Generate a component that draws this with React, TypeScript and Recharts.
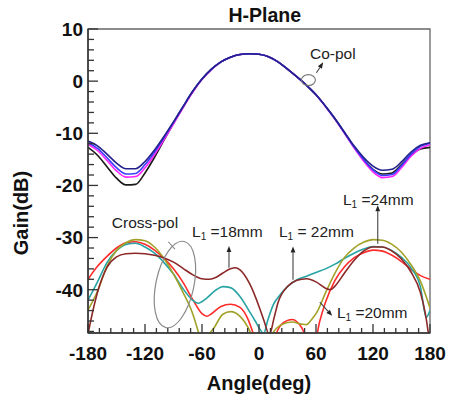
import React from 'react'
import { LineChart, Line, XAxis, YAxis, ReferenceLine, ReferenceDot, ReferenceArea } from 'recharts'

// co-pol, sampled every 10 deg
const copolAngles = [-180, -170, -160, -150, -140, -130, -120, -110, -100, -90, -80, -70, -60, -50, -40, -30, -20, -10, 0, 10, 20, 30, 40, 50, 60, 70, 80, 90, 100, 110, 120, 130, 140, 150, 160, 170, 180]
const copolNavy = [-11.5, -12.4, -14.0, -15.7, -16.8, -16.8, -15.4, -13.2, -10.6, -7.8, -4.9, -2.0, 0.4, 2.3, 3.7, 4.6, 5.1, 5.25, 5.15, 4.7, 3.7, 2.3, 0.8, -0.8, -2.6, -4.8, -7.2, -9.8, -12.4, -14.6, -16.3, -17.1, -16.9, -15.5, -13.6, -12.3, -11.8]
const copolBlue = [-11.8, -12.9, -14.7, -16.6, -17.8, -17.7, -16.0, -13.6, -10.8, -7.9, -4.9, -2.0, 0.4, 2.3, 3.7, 4.6, 5.1, 5.25, 5.15, 4.7, 3.7, 2.3, 0.8, -0.8, -2.6, -4.8, -7.2, -9.9, -12.6, -15.0, -17.0, -18.1, -17.9, -16.2, -14.0, -12.5, -11.9]
const copolMagenta = [-12.1, -13.3, -15.2, -17.2, -18.4, -18.3, -16.6, -14.1, -11.2, -8.2, -5.1, -2.2, 0.3, 2.2, 3.7, 4.6, 5.1, 5.25, 5.15, 4.7, 3.7, 2.3, 0.8, -0.8, -2.6, -4.9, -7.3, -10.0, -12.8, -15.3, -17.4, -18.5, -18.3, -16.6, -14.4, -12.9, -12.2]
const copolBlack = [-12.7, -14.2, -16.4, -18.6, -19.9, -19.8, -17.6, -14.6, -11.3, -8.1, -5.0, -2.1, 0.4, 2.3, 3.7, 4.6, 5.1, 5.25, 5.15, 4.7, 3.7, 2.3, 0.8, -0.8, -2.6, -4.8, -7.2, -9.9, -12.6, -15.0, -16.9, -17.8, -17.6, -16.0, -14.2, -13.0, -12.7]

// cross-pol
const redAngles = [-180, -170, -160, -150, -140, -130, -120, -110, -100, -90, -80, -70, -60, -55, -50, -40, -30, -20, -12, -5, 0, 10, 17, 25, 35, 45, 52, 58, 64, 70, 80, 90, 100, 110, 120, 130, 140, 150, 160, 170, 180]
const redGain = [-38, -35.5, -33.6, -32, -31, -30.8, -31.3, -32.4, -34, -36, -38.6, -41.8, -44.6, -45.1, -44.6, -43.2, -42.8, -43.4, -45.5, -49, -52, -54, -49, -46.4, -45.7, -47.3, -50, -50.5, -46, -42.4, -38.2, -35.6, -33.9, -32.9, -32.4, -32.6, -33.4, -34.6, -36.1, -37.3, -38]

const tealAngles = [-180, -170, -160, -150, -140, -130, -120, -110, -100, -90, -80, -70, -64, -55, -45, -38, -30, -20, -10, -4, 0, 5, 9, 15, 20, 30, 40, 50, 60, 70, 80, 90, 100, 110, 120, 130, 140, 150, 160, 170, 176, 180]
const tealGain = [-42, -38.5, -34.8, -32.5, -31.3, -31.1, -31.8, -33, -34.8, -37, -39.8, -42, -42.6, -41.6, -40, -39.4, -39.6, -41.3, -44.2, -46, -47.3, -48.4, -46, -42.9, -41.5, -39.4, -38.1, -37.4, -36.7, -36, -35.1, -34, -33, -32.2, -31.7, -31.8, -32.5, -33.8, -35.8, -39.5, -45.3, -44]

const oliveAngles = [-180, -170, -160, -150, -140, -130, -120, -110, -100, -90, -80, -70, -64, -60, -55, -48, -38, -30, -20, -10, -5, 0, 8, 15, 25, 35, 45, 50, 55, 61, 70, 80, 90, 100, 110, 120, 130, 140, 150, 160, 170, 180]
const oliveGain = [-43.9, -40.3, -35.5, -32.5, -31, -30.4, -30.6, -31.8, -34, -37, -40.5, -44.5, -48, -50.5, -49, -47.5, -44.7, -44.2, -45.1, -47.8, -50, -52, -51, -48.2, -46.6, -46.2, -46.6, -46.7, -45.8, -44.3, -40.6, -36.8, -33.8, -32, -30.9, -30.4, -30.5, -31.3, -32.8, -35.2, -38.4, -43.5]

const maroonAngles = [-180, -176, -170, -160, -150, -140, -130, -120, -110, -100, -90, -80, -70, -60, -52, -45, -38, -30, -25, -20, -10, 0, 5, 11, 16, 20, 30, 40, 50, 60, 70, 75, 80, 90, 100, 110, 120, 130, 140, 150, 160, 170, 175, 178, 180]
const maroonGain = [-48.5, -45, -40.5, -35.7, -33.7, -33.1, -33, -33.1, -33.4, -33.9, -34.7, -35.9, -37.1, -37.9, -38, -37.6, -36.8, -36, -35.8, -36.2, -38.8, -43.2, -45.8, -48.6, -45.3, -42.5, -39.4, -38.2, -37.9, -38.5, -39.7, -40, -39.3, -36.8, -34.4, -32.6, -31.8, -31.8, -32.6, -34.1, -36.6, -40.6, -44.5, -48, -51]

const xTicks = [-180, -168, -156, -144, -132, -120, -108, -96, -84, -72, -60, -48, -36, -24, -12, 0, 12, 24, 36, 48, 60, 72, 84, 96, 108, 120, 132, 144, 156, 168, 180]
const yTicks = [-48, -46, -44, -42, -40, -38, -36, -34, -32, -30, -28, -26, -24, -22, -20, -18, -16, -14, -12, -10, -8, -6, -4, -2, 0, 2, 4, 6, 8, 10]

const pts = (xs: number[], ys: number[]) => xs.map((a, i) => ({ angle: a, gain: ys[i] }))

const FONT = 'Arial, "Liberation Sans", sans-serif'

const XTick = (props: any) => {
  const { x, y, payload } = props
  const major = payload.value % 60 === 0
  return (
    <g>
      <line x1={x} y1={y} x2={x} y2={y - (major ? 9 : 5)} stroke="#333" strokeWidth={1.3} />
      {major && (
        <text x={x} y={y + 27} textAnchor="middle" fontFamily={FONT} fontWeight="bold" fontSize={19} fill="#111">
          {payload.value}
        </text>
      )}
    </g>
  )
}

const YTick = (props: any) => {
  const { x, y, payload } = props
  const major = payload.value % 10 === 0
  return (
    <g>
      <line x1={x} y1={y} x2={x + (major ? 10 : 6)} y2={y} stroke="#333" strokeWidth={1.3} />
      {major && (
        <text x={x - 5} y={y} dy="0.36em" textAnchor="end" fontFamily={FONT} fontWeight="bold" fontSize={19} fill="#111">
          {payload.value}
        </text>
      )}
    </g>
  )
}

const arrow = (p: any) => {
  const { x1, y1, x2, y2 } = p
  const ang = Math.atan2(y2 - y1, x2 - x1)
  const L = 6
  const W = 2.4
  const hx = x2 - L * Math.cos(ang)
  const hy = y2 - L * Math.sin(ang)
  const tri = `${x2},${y2} ${hx - W * Math.sin(ang)},${hy + W * Math.cos(ang)} ${hx + W * Math.sin(ang)},${hy - W * Math.cos(ang)}`
  return (
    <g>
      <line x1={x1} y1={y1} x2={hx} y2={hy} stroke="#444" strokeWidth={1.1} />
      <polygon points={tri} fill="#222" />
    </g>
  )
}

const plainLine = (p: any) => <line x1={p.x1} y1={p.y1} x2={p.x2} y2={p.y2} stroke="#888" strokeWidth={1.1} />

const note = (label: React.ReactNode) => (p: any) => (
  <text x={p.cx} y={p.cy} dy="0.35em" fontFamily={FONT} fontSize={15.5} fill="#222">
    {label}
  </text>
)

const lLabel = (rest: string) => (
  <>
    L<tspan fontSize={10} dy={3}>1</tspan>
    <tspan dy={-3}>{rest}</tspan>
  </>
)

export default function App() {
  const lineProps = { type: 'monotone' as const, dataKey: 'gain', dot: false, isAnimationActive: false, strokeWidth: 1.6 }
  return (
    <div style={{ position: 'absolute', left: 0, top: 0, background: '#fff' }}>
      <LineChart width={455} height={398} margin={{ top: 29, right: 25, left: 28, bottom: 35 }}>
        <XAxis
          dataKey="angle"
          type="number"
          domain={[-180, 180]}
          ticks={xTicks}
          interval={0}
          allowDataOverflow
          tick={<XTick />}
          tickLine={false}
          tickSize={0}
          tickMargin={0}
          height={30}
          axisLine={{ stroke: '#333', strokeWidth: 1.5 }}
          label={{
            content: ({ viewBox }: any) => (
              <text x={viewBox.x + viewBox.width / 2} y={viewBox.y + 57} textAnchor="middle" fontFamily={FONT} fontWeight="bold" fontSize={20} fill="#111">
                Angle(deg)
              </text>
            ),
          }}
        />
        <YAxis
          type="number"
          domain={[-48.3, 10]}
          ticks={yTicks}
          interval={0}
          allowDataOverflow
          tick={<YTick />}
          tickLine={false}
          tickSize={0}
          tickMargin={0}
          width={60}
          axisLine={{ stroke: '#333', strokeWidth: 1.5 }}
          label={{
            content: ({ viewBox }: any) => {
              const cx = viewBox.x
              const cy = viewBox.y + viewBox.height / 2 + 32
              return (
                <text x={cx} y={cy} transform={`rotate(-90, ${cx}, ${cy})`} textAnchor="middle" fontFamily={FONT} fontWeight="bold" fontSize={20} fill="#111">
                  Gain(dB)
                </text>
              )
            },
          }}
        />
        <ReferenceArea x1={-180} x2={180} y1={-48.3} y2={10} fill="none" fillOpacity={0} stroke="#666" strokeWidth={1.3} ifOverflow="visible" />

        <Line {...lineProps} data={pts(redAngles, redGain)} stroke="#ff2b2b" />
        <Line {...lineProps} data={pts(tealAngles, tealGain)} stroke="#27a3a3" />
        <Line {...lineProps} data={pts(oliveAngles, oliveGain)} stroke="#a2a22a" />
        <Line {...lineProps} data={pts(maroonAngles, maroonGain)} stroke="#8c2828" />

        <Line {...lineProps} data={pts(copolAngles, copolBlack)} stroke="#1a1a1a" />
        <Line {...lineProps} data={pts(copolAngles, copolMagenta)} stroke="#ff22ff" />
        <Line {...lineProps} data={pts(copolAngles, copolBlue)} stroke="#3c3cff" />
        <Line {...lineProps} data={pts(copolAngles, copolNavy)} stroke="#22228a" />

        <ReferenceDot x={6} y={10} r={0} ifOverflow="visible" shape={(p: any) => (
          <text x={p.cx} y={p.cy - 7} textAnchor="middle" fontFamily={FONT} fontWeight="bold" fontSize={19.5} fill="#111">H-Plane</text>
        )} />

        <ReferenceDot x={53.7} y={5.2} r={0} ifOverflow="visible" shape={note('Co-pol')} />
        <ReferenceDot x={52} y={0.2} r={0} ifOverflow="visible" shape={(p: any) => (
          <ellipse cx={p.cx} cy={p.cy} rx={7} ry={5.5} fill="none" stroke="#777" strokeWidth={1.1} />
        )} />
        <ReferenceLine segment={[{ x: 60.5, y: 1.6 }, { x: 67.5, y: 3.6 }]} ifOverflow="visible" shape={arrow} />

        <ReferenceDot x={-120} y={-27.1} r={0} ifOverflow="visible" shape={(p: any) => (
          <text x={p.cx} y={p.cy} dy="0.35em" textAnchor="middle" fontFamily={FONT} fontSize={15.5} fill="#222">Cross-pol</text>
        )} />
        <ReferenceDot x={-88.5} y={-39} r={0} ifOverflow="visible" shape={(p: any) => (
          <ellipse cx={p.cx} cy={p.cy} rx={19} ry={44} transform={`rotate(12, ${p.cx}, ${p.cy})`} fill="none" stroke="#8a8a8a" strokeWidth={1.2} />
        )} />
        <ReferenceLine segment={[{ x: -95.5, y: -30.8 }, { x: -88.5, y: -32.2 }]} ifOverflow="visible" shape={plainLine} />

        <ReferenceDot x={-70.5} y={-28.8} r={0} ifOverflow="visible" shape={note(lLabel(' =18mm'))} />
        <ReferenceLine segment={[{ x: -31.6, y: -35.8 }, { x: -31.6, y: -31.6 }]} ifOverflow="visible" shape={arrow} />

        <ReferenceDot x={21} y={-28.8} r={0} ifOverflow="visible" shape={note(lLabel(' =  22mm'))} />
        <ReferenceLine segment={[{ x: 35.8, y: -38.1 }, { x: 35.8, y: -31.7 }]} ifOverflow="visible" shape={arrow} />

        <ReferenceDot x={88.4} y={-22.7} r={0} ifOverflow="visible" shape={note(lLabel(' =24mm'))} />
        <ReferenceLine segment={[{ x: 125, y: -31.2 }, { x: 125, y: -23.8 }]} ifOverflow="visible" shape={arrow} />

        <ReferenceDot x={82} y={-44.4} r={0} ifOverflow="visible" shape={note(lLabel(' =20mm'))} />
        <ReferenceLine segment={[{ x: 64, y: -42.4 }, { x: 77, y: -45 }]} ifOverflow="visible" shape={arrow} />
      </LineChart>
    </div>
  )
}
